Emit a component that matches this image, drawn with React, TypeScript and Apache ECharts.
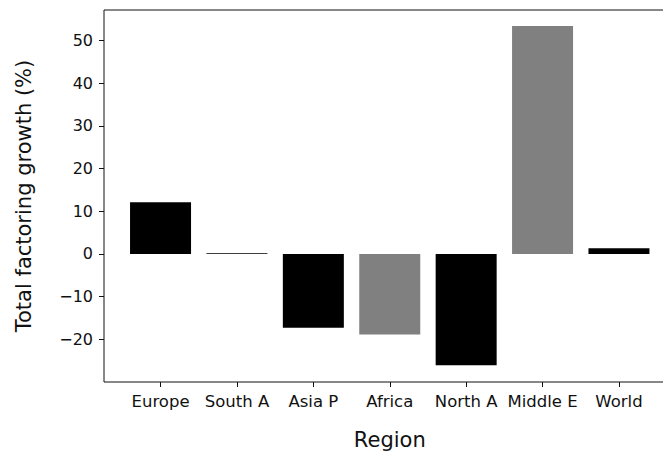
import React, { useEffect, useRef } from "react";
import * as echarts from "echarts";

const categories = ["Europe", "South A", "Asia P", "Africa", "North A", "Middle E", "World"];
const growthValues = [12.1, 0.15, -17.3, -18.9, -26.1, 53.4, 1.35];
const barColors = ["#000000", "#000000", "#000000", "#808080", "#000000", "#808080", "#000000"];
const yTickValues = [-20, -10, 0, 10, 20, 30, 40, 50];
const xTickValues = [0, 1, 2, 3, 4, 5, 6];

const FONT = "DejaVu Sans";

export default function App() {
  const ref = useRef<HTMLDivElement>(null);
  useEffect(() => {
    if (!ref.current) return;
    const chart = echarts.init(ref.current, null, { renderer: "svg" });
    chart.setOption({
      animation: false,
      backgroundColor: "#ffffff",
      grid: {
        left: 104,
        top: 10,
        width: 571.5,
        height: 372,
        outerBoundsMode: "none",
        containLabel: false,
        show: true,
        borderColor: "#111",
        borderWidth: 1,
        backgroundColor: "transparent",
      },
      xAxis: {
        type: "value",
        min: -0.74,
        max: 6.74,
        name: "Region",
        nameLocation: "middle",
        nameGap: 47,
        nameTextStyle: { fontFamily: FONT, fontSize: 21, color: "#111" },
        splitLine: { show: false },
        axisLine: { show: false, onZero: false },
        axisTick: { show: true, length: 5, lineStyle: { color: "#111", width: 1 }, customValues: xTickValues },
        axisLabel: {
          customValues: xTickValues,
          margin: 11,
          fontFamily: FONT,
          fontSize: 16.5,
          color: "#111",
          formatter: (v: number) => categories[Math.round(v)] ?? "",
        },
      },
      yAxis: {
        type: "value",
        min: -30,
        max: 57.15,
        name: "Total factoring growth (%)",
        nameLocation: "middle",
        nameGap: 70,
        nameTextStyle: { fontFamily: FONT, fontSize: 21, color: "#111" },
        splitLine: { show: false },
        axisLine: { show: false, onZero: false },
        axisTick: { show: true, length: 5, lineStyle: { color: "#111", width: 1 }, customValues: yTickValues },
        axisLabel: {
          customValues: yTickValues,
          margin: 11,
          fontFamily: FONT,
          fontSize: 16,
          color: "#111",
          formatter: (v: number) => (v < 0 ? "\u2212" + Math.abs(v) : String(v)),
        },
      },
      series: [
        {
          type: "bar",
          barWidth: 61,
          data: growthValues.map((v, i) => ({ value: [i, v], itemStyle: { color: barColors[i] } })),
        },
      ],
    });
    return () => chart.dispose();
  }, []);
  return (
    <div
      style={{ position: "fixed", left: 0, top: 0, width: 663, height: 452, overflow: "hidden", background: "#ffffff" }}
    >
      <div ref={ref} style={{ width: 700, height: 452 }} />
    </div>
  );
}
